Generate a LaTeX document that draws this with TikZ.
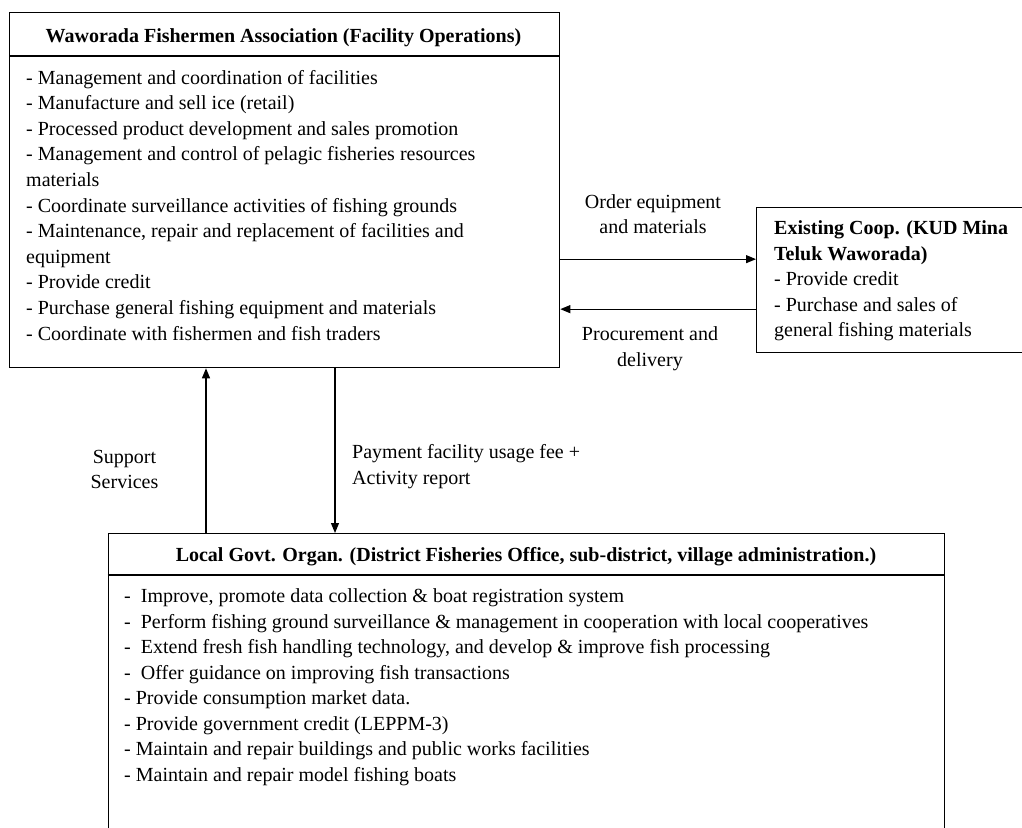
\documentclass[tikz,border=0pt]{standalone}
\usepackage{fontspec}
\setmainfont{Liberation Serif}
\usetikzlibrary{positioning,arrows.meta}

\begin{document}
\begin{tikzpicture}[
  x=1pt, y=-1pt,
  box/.style={draw, line width=1.3pt, inner sep=0pt, anchor=north west},
  body/.style={inner sep=0pt, align=left, anchor=base west, font=\fontsize{20}{25.6}\selectfont},
  title/.style={inner sep=0pt, anchor=base, font=\fontsize{20}{24}\selectfont\bfseries},
  tag/.style={inner sep=0pt, align=center, anchor=base, font=\fontsize{20}{25.5}\selectfont},
  flow/.style={line width=1.1pt, -{Triangle[length=10pt,width=8pt]}}
]
\clip (0,0) rectangle (1022,827);

% Boxes (base anchor of a multi-line node = last line)
\node[box, minimum width=550pt, minimum height=355pt] (wfa)  at (9,12)      {};
\node[box, minimum width=270pt, minimum height=145pt] (coop) at (756,207)   {};
\node[box, minimum width=836pt, minimum height=300pt] (gov)  at (107.6,533) {};

% Header rules
\draw[line width=1.3pt] ([yshift=-44pt]wfa.north west) -- ([yshift=-44pt]wfa.north east);
\draw[line width=1.3pt] ([yshift=-42pt]gov.north west) -- ([yshift=-42pt]gov.north east);

% --- Fishermen association ---
\node[title] (wfaT) at (283.5,42.5) {Waworada Fishermen Association (Facility Operations)};
\node[body] (wfaB) at (26,340) {%
  - Management and coordination of facilities\\
  - Manufacture and sell ice (retail)\\
  - Processed product development and sales promotion\\
  - Management and control of pelagic fisheries resources\\
  materials\\
  - Coordinate surveillance activities of fishing grounds\\
  - Maintenance, repair and replacement of facilities and\\
  equipment\\
  - Provide credit\\
  - Purchase general fishing equipment and materials\\
  - Coordinate with fishermen and fish traders};

% --- Existing cooperative ---
\node[body, font=\fontsize{20}{25.5}\selectfont] (coopB) at (774,336.5) {%
  \textbf{Existing Coop. (KUD Mina}\\
  \textbf{Teluk Waworada)}\\
  - Provide credit\\
  - Purchase and sales of\\
  general fishing materials};

% --- Local government ---
\node[title] (govT) at (526,561) {Local Govt. Organ. (District Fisheries Office, sub-district, village administration.)};
\node[body, font=\fontsize{20}{25.5}\selectfont] (govB) at (124,781) {%
  -\ \ Improve, promote data collection \& boat registration system\\
  -\ \ Perform fishing ground surveillance \& management in cooperation with local cooperatives\\
  -\ \ Extend fresh fish handling technology, and develop \& improve fish processing\\
  -\ \ Offer guidance on improving fish transactions\\
  - Provide consumption market data.\\
  - Provide government credit (LEPPM-3)\\
  - Maintain and repair buildings and public works facilities\\
  - Maintain and repair model fishing boats};

% --- Flows ---
\coordinate (ordR) at ([yshift=21pt]coop.west);
\coordinate (proR) at ([yshift=-29pt]coop.west);
\coordinate (supX) at (206,0);
\coordinate (payX) at (335,0);

\draw[flow] (wfa.east |- ordR) -- (ordR);
\draw[flow] (proR) -- (wfa.east |- proR);
\draw[flow] (gov.north -| supX) -- (wfa.south -| supX);
\draw[flow] (wfa.south -| payX) -- (gov.north -| payX);

% Flow labels
\node[tag] (ordL) at (653,233.5) {Order equipment\\and materials};
\node[tag] (proL) at (650,366) {Procurement and\\delivery};
\node[tag] (supL) at (124.5,488.5) {Support\\Services};
\node[body] (payL) at (352,484) {Payment facility usage fee +\\Activity report};

\end{tikzpicture}
\end{document}
